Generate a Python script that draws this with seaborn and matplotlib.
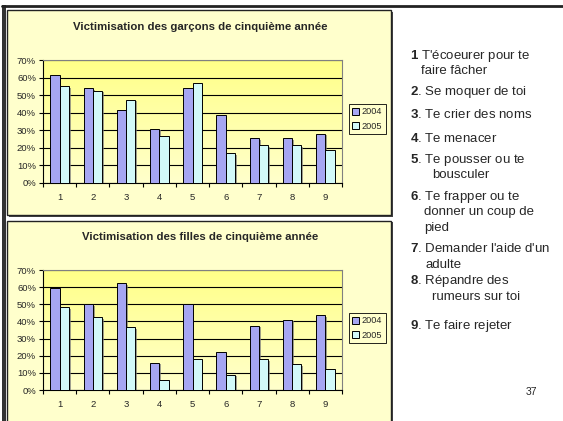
import matplotlib.patheffects as pe
import matplotlib.pyplot as plt
import matplotlib.patches as mpatches
import numpy as np
import pandas as pd
import seaborn as sns

W, H = 563, 421

items = ["1", "2", "3", "4", "5", "6", "7", "8", "9"]
years = ["2004", "2005"]
boys_2004 = [61.5, 54, 41.5, 31, 54, 38.5, 25.5, 25.5, 28]
boys_2005 = [55, 52.5, 47.5, 26.5, 57, 17, 21.5, 21.5, 19]
girls_2004 = [59.5, 50, 62.5, 16, 50, 22, 37.5, 41, 43.5]
girls_2005 = [48.5, 42.5, 36.5, 6, 18, 9, 18, 15, 12]

titles = [
    "Victimisation des garçons de cinquième année",
    "Victimisation des filles de cinquième année",
]

# texte de droite : (numero, separateur, lignes)
legend_items = [
    ("1", " ", ["T'écoeurer pour te", "faire fâcher"]),
    ("2", ". ", ["Se moquer de toi"]),
    ("3", ". ", ["Te crier des noms"]),
    ("4", ". ", ["Te menacer"]),
    ("5", ". ", ["Te pousser ou te", "bousculer"]),
    ("6", ". ", ["Te frapper ou te", "donner un coup de", "pied"]),
    ("7", ". ", ["Demander l'aide d'un", "adulte"]),
    ("8", ". ", ["Répandre des", "rumeurs sur toi"]),
    ("9", ". ", ["Te faire rejeter"]),
]
page_number = "37"

# mise en page (pixels)
item_y = [56, 92, 114, 138, 160, 197, 249, 281, 326]
item_indent = [421, 421, 421, 421, 432, 424, 426, 432, 421]
line_step = 15.5

sns.set_theme(style="white")
plt.rcParams["font.family"] = ["Liberation Sans", "DejaVu Sans"]
plt.rcParams["mathtext.fontset"] = "custom"
plt.rcParams["mathtext.rm"] = "Liberation Sans"
plt.rcParams["mathtext.bf"] = "Liberation Sans:bold"

colors = {"2004": "#9999FF", "2005": "#CCFFFF"}


def fx(px):
    return px / W


def fy(py):
    return 1 - py / H


fig = plt.figure(figsize=(W / 100, H / 100), dpi=100)
fig.patch.set_facecolor("white")

# cadre exterieur
fig.add_artist(mpatches.Rectangle((fx(2), fy(421)), fx(4), fy(5) - fy(421),
                                  transform=fig.transFigure, facecolor="#333333",
                                  edgecolor="none", zorder=-10))
fig.add_artist(plt.Line2D([fx(2), 1], [fy(6), fy(6)], transform=fig.transFigure,
                          color="#222222", linewidth=2, zorder=-10))


def chart_box(top, bottom):
    shadow = mpatches.Rectangle((fx(8.5), fy(bottom + 1.5)), fx(384), fy(top + 1.5) - fy(bottom + 1.5),
                                transform=fig.transFigure, facecolor="#444444",
                                edgecolor="none", zorder=-9)
    box = mpatches.Rectangle((fx(7), fy(bottom)), fx(384), fy(top) - fy(bottom),
                             transform=fig.transFigure, facecolor="#FFFFCC",
                             edgecolor="#222222", linewidth=1, zorder=-8)
    fig.add_artist(shadow)
    fig.add_artist(box)


chart_box(10, 215)
chart_box(221, 424)


def draw_chart(v2004, v2005, title, plot_top, plot_bottom, title_y, leg_y):
    df = pd.DataFrame({
        "item": items * 2,
        "year": [years[0]] * len(items) + [years[1]] * len(items),
        "value": list(v2004) + list(v2005),
    })
    ax = fig.add_axes([fx(43), fy(plot_bottom), fx(342 - 43), fy(plot_top) - fy(plot_bottom)])
    grad = np.linspace(1, 0, 256).reshape(-1, 1)
    cmap = sns.blend_palette(["#FFFF88", "#FFFFCC"], as_cmap=True)
    ax.imshow(grad, aspect="auto", cmap=cmap, extent=(-0.5, 8.5, 0, 70), zorder=0, origin="lower")
    sns.barplot(data=df, x="item", y="value", hue="year", palette=colors, width=0.56,
                edgecolor="black", linewidth=0.7, ax=ax, zorder=3, legend=True)
    shadow = [pe.SimplePatchShadow(offset=(1.2, -1.2), shadow_rgbFace="#777777", alpha=0.7),
              pe.Normal()]
    for bar in ax.patches:
        bar.set_path_effects(shadow)
    ax.set_xlim(-0.5, 8.5)
    ax.set_ylim(0, 70)
    ax.set_yticks(np.arange(0, 71, 10))
    ax.set_yticklabels([f"{v}%" for v in range(0, 71, 10)], fontsize=6.8)
    ax.yaxis.grid(True, color="black", linewidth=0.8, zorder=1)
    ax.set_axisbelow(True)
    ax.tick_params(axis="y", length=3, width=0.8, pad=2, left=True, color="black")
    ax.set_xticks(range(len(items)))
    ax.set_xticklabels(items, fontsize=6.8)
    ax.set_xticks(np.arange(-0.5, 9, 1), minor=True)
    ax.tick_params(axis="x", which="major", length=0, pad=7.5)
    ax.tick_params(axis="x", which="minor", length=3, width=0.8, bottom=True, color="black")
    ax.set_xlabel("")
    ax.set_ylabel("")
    for side in ["top", "right"]:
        ax.spines[side].set_color("#808080")
        ax.spines[side].set_linewidth(0.8)
    for side in ["left", "bottom"]:
        ax.spines[side].set_color("black")
        ax.spines[side].set_linewidth(0.8)
    fig.text(fx(200), fy(title_y), title, ha="center", va="center", fontsize=8.2,
             fontweight="bold")
    handles, labels = ax.get_legend_handles_labels()
    leg = ax.legend(handles, labels, loc="center left", bbox_to_anchor=(fx(349), fy(leg_y)),
                    bbox_transform=fig.transFigure, fontsize=6.6, frameon=True, fancybox=False,
                    edgecolor="black", facecolor="#FFFFCC", framealpha=1, handlelength=0.75,
                    handleheight=0.75, handletextpad=0.3, borderpad=0.35, labelspacing=0.55,
                    borderaxespad=0)
    leg.get_frame().set_linewidth(0.6)
    for h in leg.legend_handles:
        h.set_path_effects([])
    return ax


draw_chart(boys_2004, boys_2005, titles[0], 60, 183, 27, 119)
draw_chart(girls_2004, girls_2005, titles[1], 270, 390, 237, 328)

# texte de droite
for (num, sep, lines), y0, x_ind in zip(legend_items, item_y, item_indent):
    for k, line in enumerate(lines):
        if k == 0:
            fig.text(fx(410), fy(y0), f"$\\mathbf{{{num}}}${sep}{line}", ha="left", va="center",
                     fontsize=9.5)
        else:
            fig.text(fx(x_ind), fy(y0 + k * line_step), line, ha="left", va="center",
                     fontsize=9.5)

fig.text(fx(526), fy(392), page_number, ha="left", va="center", fontsize=7.5)

fig.savefig("out.png", dpi=100)
